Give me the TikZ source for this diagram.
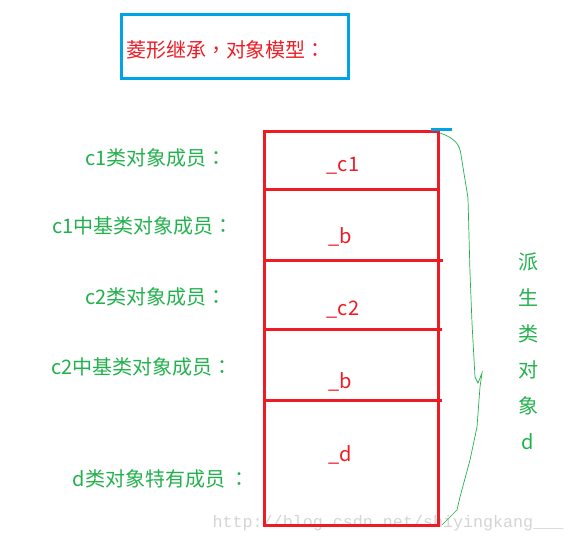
\documentclass[tikz,border=0pt]{standalone}
\usepackage{fontspec}
\newfontfamily\cjk{Noto Sans CJK TC}
\newfontfamily\wmfont{Liberation Mono}
\definecolor{paintred}{RGB}{237,28,36}
\definecolor{paintblue}{RGB}{0,162,232}
\definecolor{paintgreen}{RGB}{34,177,76}
\definecolor{wmgray}{RGB}{212,212,212}

\begin{document}
\begin{tikzpicture}[x=1pt,y=-1pt]
\tikzstyle{every node}=[inner sep=0pt,font=\cjk\fontsize{20}{20}\selectfont];
\tikzstyle{cell}=[draw=paintred,line width=3pt];
\tikzstyle{lbl}=[text=paintgreen];
\tikzstyle{mem}=[text=paintred];
\useasboundingbox (0,0) rectangle (574,543);
\node[text=wmgray,font=\wmfont\fontsize{16.7}{17}\selectfont] (wm) at (388,523) {http://blog.csdn.net/shiyingkang\_\_\_};
\draw[paintblue,line width=3pt] (121,15) rectangle (348,79);
\node[text=paintred] (title) at (226,50) {菱形继承，对象模型：};
\draw[cell] (264,132) rectangle (438,525);
\draw[cell] (264,190) -- (438,190)
(264,260) -- (443,260)
(264,329) -- (442,329)
(264,400) -- (442,400);
\draw[paintblue,line width=3pt] (431,130) -- (452,130);
\node[mem] (m0) at (343,166) {\_c1};
\node[mem] (m1) at (340,237) {\_b};
\node[mem] (m2) at (343,310) {\_c2};
\node[mem] (m3) at (340,382) {\_b};
\node[mem] (m4) at (340,455) {\_d};
\node[lbl] (l0) at (156,158) {c1类对象成员：};
\node[lbl] (l1) at (143,226) {c1中基类对象成员：};
\node[lbl] (l2) at (156,297) {c2类对象成员：};
\node[lbl] (l3) at (142,367) {c2中基类对象成员：};
\node[lbl] (l4) at (161,479) {d类对象特有成员\hspace{4pt}：};
\node[lbl,align=center,font=\cjk\fontsize{20}{36}\selectfont] (side) at (528,351) {派\\生\\类\\对\\象\\d};
\coordinate (btop) at (440,133);
\coordinate (bbot) at (442,525);
\draw[paintgreen,line width=0.7pt] (btop) .. controls (455,138) and (460,145) .. (461,155)
-- (468,198) -- (470,273) -- (472,323) -- (475,377) -- (478,383) -- (482,373)
-- (480,387) -- (477,427) -- (470,460) -- (460,497) -- (457,510) -- (bbot);
\end{tikzpicture}
\end{document}
